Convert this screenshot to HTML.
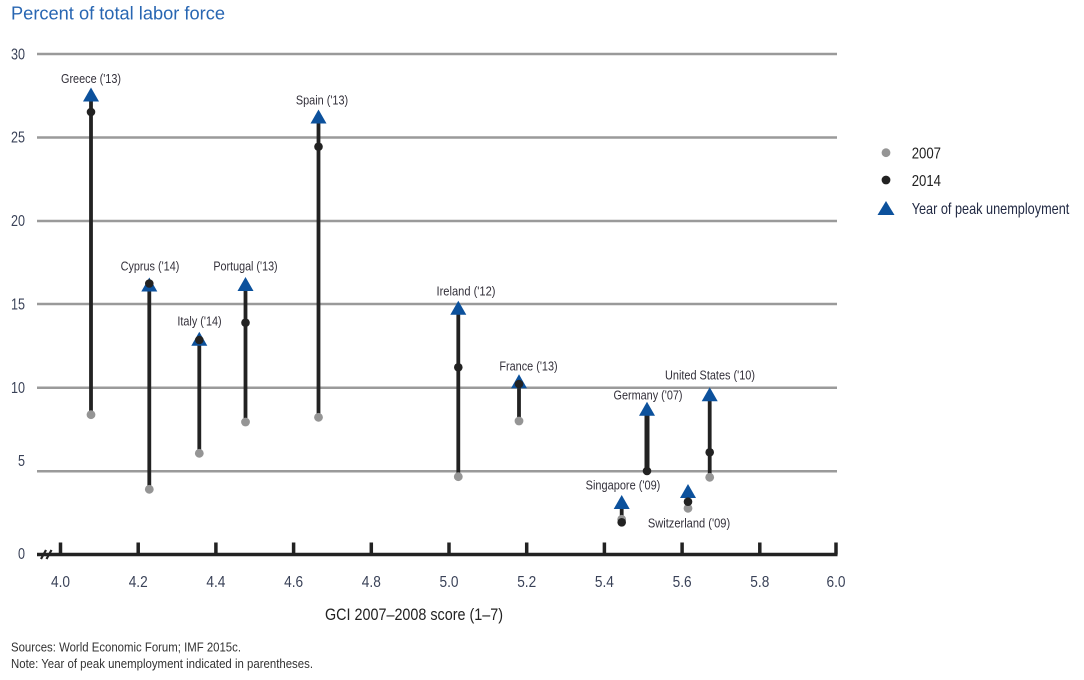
<!DOCTYPE html>
<html>
<head>
<meta charset="utf-8">
<style>
  html, body { margin:0; padding:0; background:#fff; }
  svg { display:block; }
  text { font-family: "Liberation Sans", "DejaVu Sans", sans-serif; }
</style>
</head>
<body>
<svg width="1084" height="680" viewBox="0 0 1084 680" xmlns="http://www.w3.org/2000/svg">
  <!-- Title -->
  <text x="11" y="19.5" font-size="18" fill="#2866b2" textLength="214" lengthAdjust="spacingAndGlyphs">Percent of total labor force</text>

  <!-- Gridlines -->
  <g stroke="#9a9a9a" stroke-width="2.5">
    <line x1="37" y1="54" x2="837" y2="54"/>
    <line x1="37" y1="137.5" x2="837" y2="137.5"/>
    <line x1="37" y1="221" x2="837" y2="221"/>
    <line x1="37" y1="304" x2="837" y2="304"/>
    <line x1="37" y1="387.7" x2="837" y2="387.7"/>
    <line x1="37" y1="471.2" x2="837" y2="471.2"/>
  </g>

  <!-- Y labels -->
  <g font-size="16" fill="#3a4258" text-anchor="end">
    <text x="25" y="59.3" textLength="14" lengthAdjust="spacingAndGlyphs">30</text>
    <text x="25" y="142.7" textLength="14" lengthAdjust="spacingAndGlyphs">25</text>
    <text x="25" y="226" textLength="14" lengthAdjust="spacingAndGlyphs">20</text>
    <text x="25" y="309.4" textLength="14" lengthAdjust="spacingAndGlyphs">15</text>
    <text x="25" y="393" textLength="14" lengthAdjust="spacingAndGlyphs">10</text>
    <text x="25" y="466" textLength="7" lengthAdjust="spacingAndGlyphs">5</text>
    <text x="25" y="559" textLength="7" lengthAdjust="spacingAndGlyphs">0</text>
  </g>

  <!-- X axis -->
  <g stroke="#222" stroke-width="3.5">
    <line x1="37" y1="554.5" x2="837.5" y2="554.5"/>
    <line x1="60.5" y1="542.5" x2="60.5" y2="554.5"/>
    <line x1="138.2" y1="542.5" x2="138.2" y2="554.5"/>
    <line x1="215.9" y1="542.5" x2="215.9" y2="554.5"/>
    <line x1="293.6" y1="542.5" x2="293.6" y2="554.5"/>
    <line x1="371.3" y1="542.5" x2="371.3" y2="554.5"/>
    <line x1="449" y1="542.5" x2="449" y2="554.5"/>
    <line x1="526.7" y1="542.5" x2="526.7" y2="554.5"/>
    <line x1="604.4" y1="542.5" x2="604.4" y2="554.5"/>
    <line x1="682.1" y1="542.5" x2="682.1" y2="554.5"/>
    <line x1="759.8" y1="542.5" x2="759.8" y2="554.5"/>
    <line x1="836" y1="542.5" x2="836" y2="554.5"/>
  </g>
  <!-- axis break -->
  <g stroke="#222" stroke-width="2.2">
    <line x1="41" y1="559" x2="46" y2="550"/>
    <line x1="46.5" y1="559" x2="51.5" y2="550"/>
  </g>

  <!-- X labels -->
  <g font-size="16" fill="#3a4258" text-anchor="middle">
    <text x="60.5" y="586.8" textLength="19" lengthAdjust="spacingAndGlyphs">4.0</text>
    <text x="138.2" y="586.8" textLength="19" lengthAdjust="spacingAndGlyphs">4.2</text>
    <text x="215.9" y="586.8" textLength="19" lengthAdjust="spacingAndGlyphs">4.4</text>
    <text x="293.6" y="586.8" textLength="19" lengthAdjust="spacingAndGlyphs">4.6</text>
    <text x="371.3" y="586.8" textLength="19" lengthAdjust="spacingAndGlyphs">4.8</text>
    <text x="449" y="586.8" textLength="19" lengthAdjust="spacingAndGlyphs">5.0</text>
    <text x="526.7" y="586.8" textLength="19" lengthAdjust="spacingAndGlyphs">5.2</text>
    <text x="604.4" y="586.8" textLength="19" lengthAdjust="spacingAndGlyphs">5.4</text>
    <text x="682.1" y="586.8" textLength="19" lengthAdjust="spacingAndGlyphs">5.6</text>
    <text x="759.8" y="586.8" textLength="19" lengthAdjust="spacingAndGlyphs">5.8</text>
    <text x="836" y="586.8" textLength="19" lengthAdjust="spacingAndGlyphs">6.0</text>
  </g>

  <!-- X axis title -->
  <text x="325" y="620" font-size="17" fill="#222" textLength="178" lengthAdjust="spacingAndGlyphs">GCI 2007–2008 score (1–7)</text>

  <!-- Series lines -->
  <g stroke="#222" stroke-width="3.8">
    <line x1="91" y1="414.7" x2="91" y2="97"/>
    <line x1="149.3" y1="489.3" x2="149.3" y2="288"/>
    <line x1="199.3" y1="453.3" x2="199.3" y2="342"/>
    <line x1="245.5" y1="422" x2="245.5" y2="287"/>
    <line x1="318.5" y1="417.3" x2="318.5" y2="119"/>
    <line x1="458.3" y1="476.7" x2="458.3" y2="310"/>
    <line x1="519" y1="421" x2="519" y2="384"/>
    <line x1="709.7" y1="477.3" x2="709.7" y2="397"/>
    <line x1="621.7" y1="522" x2="621.7" y2="505"/>
    <line x1="688" y1="508" x2="688" y2="494"/>
  </g>
  <line x1="647" y1="471" x2="647" y2="411" stroke="#222" stroke-width="5"/>

  <!-- Triangles -->
  <g fill="#0c519c">
    <polygon points="91,87.5 83,101.5 99,101.5"/>
    <polygon points="149.3,277.5 141.3,291.5 157.3,291.5"/>
    <polygon points="199.3,331.7 191.3,345.7 207.3,345.7"/>
    <polygon points="245.5,277 237.5,291 253.5,291"/>
    <polygon points="318.5,109.5 310.5,123.5 326.5,123.5"/>
    <polygon points="458.3,300.7 450.3,314.7 466.3,314.7"/>
    <polygon points="519,374.3 511,388.3 527,388.3"/>
    <polygon points="647,401.7 639,415.7 655,415.7"/>
    <polygon points="621.7,495 613.7,509 629.7,509"/>
    <polygon points="688,484 680,498 696,498"/>
    <polygon points="709.7,387.3 701.7,401.3 717.7,401.3"/>
  </g>

  <!-- 2007 dots -->
  <g fill="#959595">
    <circle cx="91" cy="414.7" r="4.4"/>
    <circle cx="149.3" cy="489.3" r="4.4"/>
    <circle cx="199.3" cy="453.3" r="4.4"/>
    <circle cx="245.5" cy="422" r="4.4"/>
    <circle cx="318.5" cy="417.3" r="4.4"/>
    <circle cx="458.3" cy="476.7" r="4.4"/>
    <circle cx="519" cy="421" r="4.4"/>
    <circle cx="621.7" cy="519.3" r="4.4"/>
    <circle cx="688" cy="508.3" r="4.4"/>
    <circle cx="709.7" cy="477.3" r="4.4"/>
  </g>

  <!-- 2014 dots -->
  <g fill="#222">
    <circle cx="91" cy="112" r="4.3"/>
    <circle cx="149.3" cy="283.5" r="4.3"/>
    <circle cx="199.3" cy="340" r="4.3"/>
    <circle cx="245.5" cy="322.7" r="4.3"/>
    <circle cx="318.5" cy="146.7" r="4.3"/>
    <circle cx="458.3" cy="367.3" r="4.3"/>
    <circle cx="519" cy="384" r="4.3"/>
    <circle cx="647" cy="471" r="4.3"/>
    <circle cx="621.7" cy="522.3" r="4.3"/>
    <circle cx="688" cy="501.7" r="4.3"/>
    <circle cx="709.7" cy="452.3" r="4.3"/>
  </g>

  <!-- Data labels -->
  <g font-size="13" fill="#33303a" text-anchor="middle">
    <text x="91" y="83" textLength="60" lengthAdjust="spacingAndGlyphs">Greece ('13)</text>
    <text x="150" y="270.3" textLength="58.7" lengthAdjust="spacingAndGlyphs">Cyprus ('14)</text>
    <text x="245.5" y="270.3" textLength="64.3" lengthAdjust="spacingAndGlyphs">Portugal ('13)</text>
    <text x="199.5" y="325.6" textLength="44.3" lengthAdjust="spacingAndGlyphs">Italy ('14)</text>
    <text x="322" y="104.6" textLength="52.3" lengthAdjust="spacingAndGlyphs">Spain ('13)</text>
    <text x="466" y="295.6" textLength="59" lengthAdjust="spacingAndGlyphs">Ireland ('12)</text>
    <text x="528.5" y="370.6" textLength="58.3" lengthAdjust="spacingAndGlyphs">France ('13)</text>
    <text x="648" y="399.6" textLength="69" lengthAdjust="spacingAndGlyphs">Germany ('07)</text>
    <text x="710" y="379.6" textLength="90" lengthAdjust="spacingAndGlyphs">United States ('10)</text>
    <text x="623" y="489.6" textLength="74.7" lengthAdjust="spacingAndGlyphs">Singapore ('09)</text>
    <text x="689" y="527.3" textLength="82.3" lengthAdjust="spacingAndGlyphs">Switzerland ('09)</text>
  </g>

  <!-- Legend -->
  <circle cx="886" cy="152.7" r="4.4" fill="#959595"/>
  <text x="911.7" y="158.5" font-size="16" fill="#222" textLength="29.3" lengthAdjust="spacingAndGlyphs">2007</text>
  <circle cx="886" cy="180" r="4.4" fill="#222"/>
  <text x="911.7" y="185.8" font-size="16" fill="#222" textLength="29.3" lengthAdjust="spacingAndGlyphs">2014</text>
  <polygon points="886,201 877.5,215 894.5,215" fill="#0c519c"/>
  <text x="911.7" y="213.8" font-size="16" fill="#222a44" textLength="157.6" lengthAdjust="spacingAndGlyphs">Year of peak unemployment</text>

  <!-- Notes -->
  <text x="11" y="651.3" font-size="13" fill="#333" textLength="230" lengthAdjust="spacingAndGlyphs">Sources: World Economic Forum; IMF 2015c.</text>
  <text x="11" y="668" font-size="13" fill="#333" textLength="302" lengthAdjust="spacingAndGlyphs">Note: Year of peak unemployment indicated in parentheses.</text>
</svg>
</body>
</html>
